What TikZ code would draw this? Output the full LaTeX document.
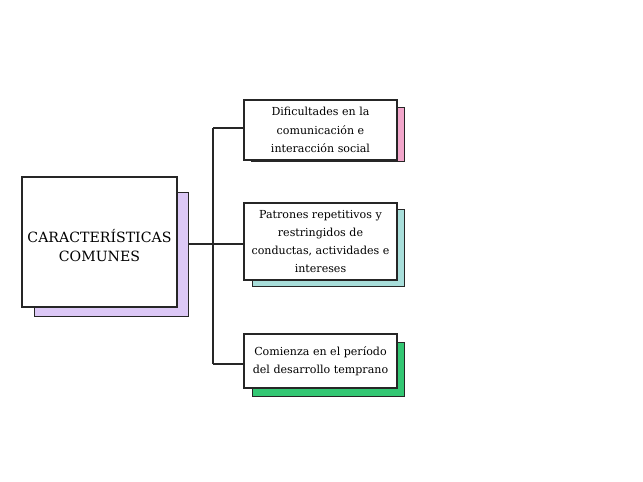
\documentclass[tikz,border=0pt]{standalone}
\usepackage{fontspec}
\setmainfont{DejaVu Serif}
\definecolor{lineclr}{HTML}{262626}
\definecolor{pinkc}{HTML}{F2A6CB}
\definecolor{tealc}{HTML}{A8DEDA}
\definecolor{greenc}{HTML}{33C773}
\definecolor{lavc}{HTML}{DCC8F6}
\begin{document}
\begin{tikzpicture}[x=0.75pt,y=-0.75pt,
  card/.style={draw=lineclr,line width=0.8pt,fill=white,inner sep=0pt,align=center,text=black},
  shadowbox/.style={draw=lineclr,line width=0.6pt,inner sep=0pt},
  leaf/.style={card,font=\fontsize{8.3}{13.6}\selectfont,minimum width=114.75pt},
  link/.style={draw=lineclr,line width=0.8pt}]
\useasboundingbox (0,0) rectangle (643,482);
% shadows
\node[shadowbox,fill=lavc,minimum width=115.5pt,minimum height=93pt] (s0) at (111,254) {};
\node[shadowbox,fill=pinkc,minimum width=114.75pt,minimum height=41pt] (s1) at (327.5,134.5) {};
\node[shadowbox,fill=tealc,minimum width=114pt,minimum height=58pt] (s2) at (328,248) {};
\node[shadowbox,fill=greenc,minimum width=114pt,minimum height=40.5pt] (s3) at (328,369) {};
% cards
\node[card,minimum width=116.25pt,minimum height=97.5pt,
  label={[font=\fontsize{10.6}{14.2}\selectfont,align=center,text=black,yshift=-2.6pt]center:CARACTERÍSTICAS\\COMUNES}] (main) at (99.5,242) {};
\node[leaf,minimum height=45pt] (b1) at (320.5,130) {Dificultades en la\\comunicación e\\interacción social};
\node[leaf,minimum height=57.75pt] (b2) at (320.5,241.5) {Patrones repetitivos y\\restringidos de\\conductas, actividades e\\intereses};
\node[leaf,minimum height=40.5pt] (b3) at (320.5,361) {Comienza en el período\\del desarrollo temprano};
% connectors
\coordinate (j) at (213,244);
\coordinate (jt) at (213,128);
\coordinate (jb) at (213,364);
\draw[link] (s0.east |- j) -- (j);
\draw[link] (jt) -- (jb);
\draw[link] (jt) -- (jt -| b1.west);
\draw[link] (j) -- (j -| b2.west);
\draw[link] (jb) -- (jb -| b3.west);
\end{tikzpicture}
\end{document}
